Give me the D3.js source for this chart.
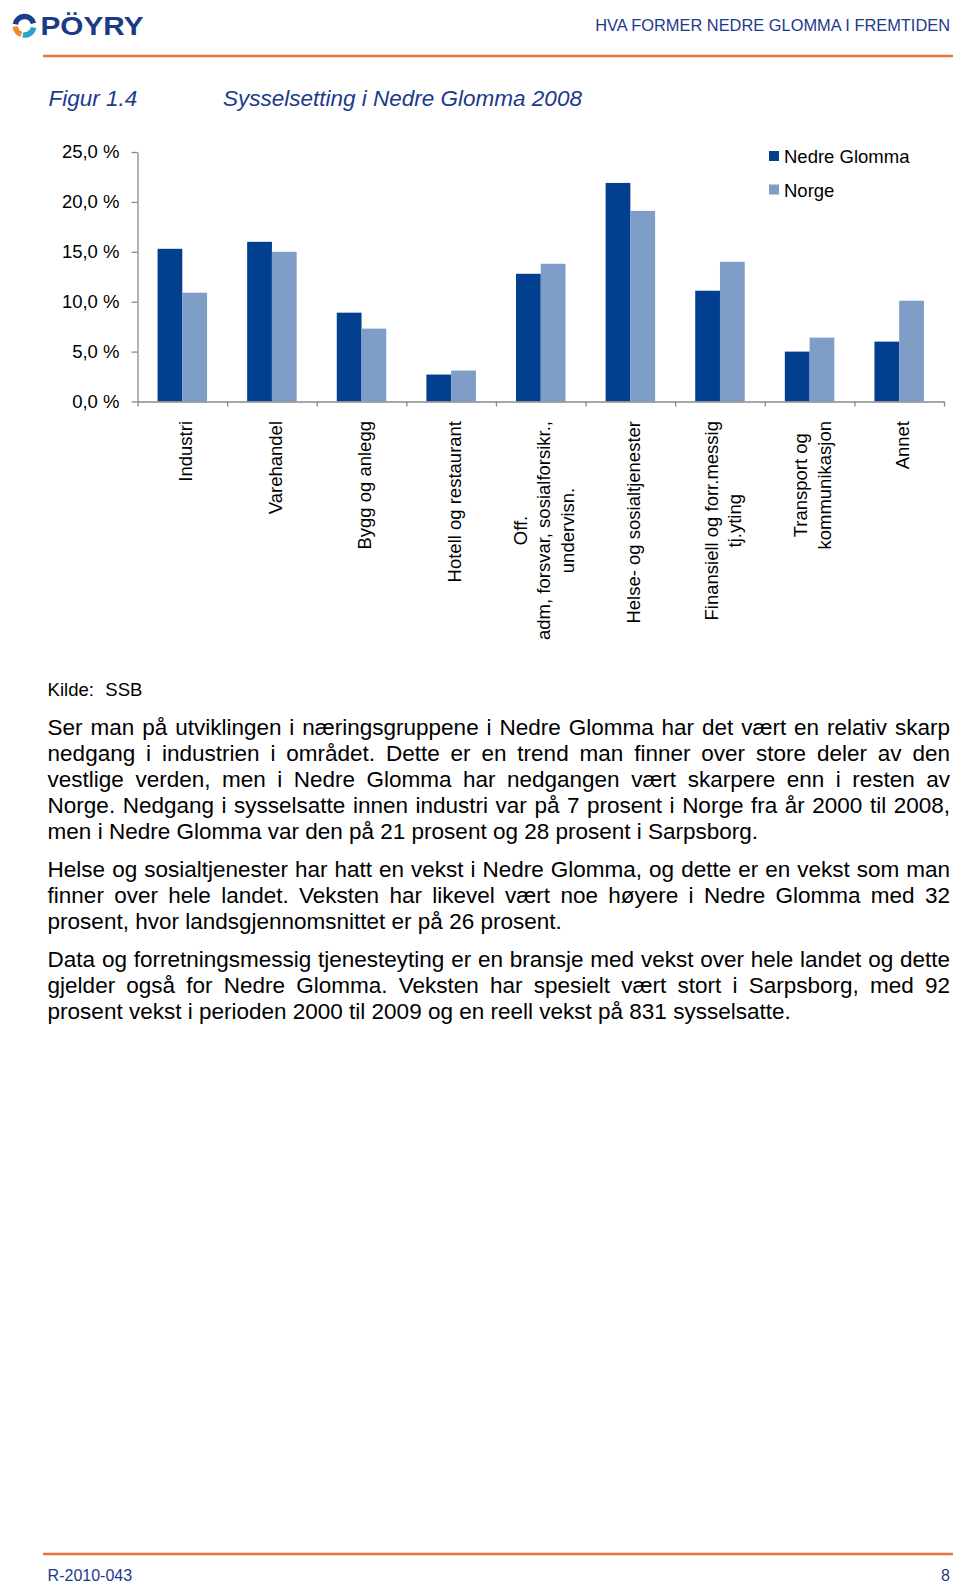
<!DOCTYPE html>
<html>
<head>
<meta charset="utf-8">
<script src="https://cdn.jsdelivr.net/npm/d3@7"></script>
<style>
  html, body { margin: 0; padding: 0; background: #fff; }
  svg { display: block; }
  text { font-family: "Liberation Sans", Arial, Helvetica, sans-serif; }
</style>
</head>
<body>
<script>
// ---------- data ----------
const categories = [
  "Industri",
  "Varehandel",
  "Bygg og anlegg",
  "Hotell og restaurant",
  "Off.\nadm, forsvar, sosialforsikr.,\nundervisn.",
  "Helse- og sosialtjenester",
  "Finansiell og forr.messig\ntj.yting",
  "Transport og\nkommunikasjon",
  "Annet"
];
const seriesNames = ["Nedre Glomma", "Norge"];
const nedreGlomma = [15.3, 16.0, 8.9, 2.7, 12.8, 21.9, 11.1, 5.0, 6.0];
const norge       = [10.9, 15.0, 7.3, 3.1, 13.8, 19.1, 14.0, 6.4, 10.1];
const yTickValues = [0, 5, 10, 15, 20, 25];
const yTickLabels = ["0,0 %", "5,0 %", "10,0 %", "15,0 %", "20,0 %", "25,0 %"];

const headerTitle = "HVA FORMER NEDRE GLOMMA I FREMTIDEN";
const brandName = "PÖYRY";
const figureLabel = "Figur 1.4";
const figureTitle = "Sysselsetting i Nedre Glomma 2008";
const sourceLabel = "Kilde:";
const sourceName = "SSB";
const reportId = "R-2010-043";
const pageNumber = "8";

const paragraphs = [
  [
    "Ser man på utviklingen i næringsgruppene i Nedre Glomma har det vært en relativ skarp",
    "nedgang i industrien i området. Dette er en trend man finner over store deler av den",
    "vestlige verden, men i Nedre Glomma har nedgangen vært skarpere enn i resten av",
    "Norge. Nedgang i sysselsatte innen industri var på 7 prosent i Norge fra år 2000 til 2008,",
    "men i Nedre Glomma var den på 21 prosent og 28 prosent i Sarpsborg."
  ],
  [
    "Helse og sosialtjenester har hatt en vekst i Nedre Glomma, og dette er en vekst som man",
    "finner over hele landet. Veksten har likevel vært noe høyere i Nedre Glomma med 32",
    "prosent, hvor landsgjennomsnittet er på 26 prosent."
  ],
  [
    "Data og forretningsmessig tjenesteyting er en bransje med vekst over hele landet og dette",
    "gjelder også for Nedre Glomma. Veksten har spesielt vært stort i Sarpsborg, med 92",
    "prosent vekst i perioden 2000 til 2009 og en reell vekst på 831 sysselsatte."
  ]
];

// ---------- styles ----------
const W = 960, H = 1588;
const navy = "#1c3a8c";
const orange = "#e8763f";
const darkBar = "#023f8e";
const lightBar = "#7e9ec8";
const axisColor = "#8a8a8a";

const svg = d3.select("body").append("svg")
  .attr("width", W).attr("height", H)
  .attr("viewBox", `0 0 ${W} ${H}`);

// ---------- page header ----------
const logo = svg.append("g").attr("transform", "translate(24.5,25.8)");
const arcGen = d3.arc().innerRadius(6.5).outerRadius(12);
const deg = Math.PI / 180;
logo.append("path").attr("d", arcGen({startAngle: -80 * deg, startAngle2: 0, endAngle: 75 * deg})).attr("fill", "#1b3f8f");
logo.append("path").attr("d", arcGen({startAngle: 100 * deg, endAngle: 190 * deg})).attr("fill", "#2aa3c8");
logo.append("path").attr("d", arcGen({startAngle: 200 * deg, endAngle: 265 * deg})).attr("fill", "#f08a2c");

svg.append("text")
  .attr("x", 40.5).attr("y", 35.4)
  .attr("textLength", 103).attr("lengthAdjust", "spacingAndGlyphs")
  .style("font-size", "26.5px").style("font-weight", "bold")
  .attr("fill", "#1b3a86")
  .text(brandName);

svg.append("text")
  .attr("x", 950).attr("y", 31)
  .attr("text-anchor", "end")
  .style("font-size", "16.4px")
  .attr("fill", navy)
  .text(headerTitle);

svg.append("line")
  .attr("x1", 43).attr("x2", 953).attr("y1", 56).attr("y2", 56)
  .attr("stroke", orange).attr("stroke-width", 2.5);

svg.append("text")
  .attr("x", 48.5).attr("y", 105.5)
  .style("font-size", "22.5px").style("font-style", "italic")
  .attr("fill", navy)
  .text(figureLabel);
svg.append("text")
  .attr("x", 223).attr("y", 105.5)
  .style("font-size", "22.5px").style("font-style", "italic")
  .attr("fill", navy)
  .text(figureTitle);

// ---------- chart ----------
const plotLeft = 137.5, plotRight = 944, plotTop = 152, plotBottom = 401.5;
const chartFont = 18.5;

const y = d3.scaleLinear().domain([0, 25]).range([plotBottom, plotTop]);
const x0 = d3.scaleBand().domain(categories).range([plotLeft, plotRight]).padding(0);
const x1 = d3.scaleBand().domain(seriesNames).range([0, x0.bandwidth()])
  .paddingInner(0).paddingOuter(0.81);
const color = d3.scaleOrdinal().domain(seriesNames).range([darkBar, lightBar]);

const rows = categories.map((c, i) => ({cat: c, values: [
  {s: seriesNames[0], v: nedreGlomma[i]},
  {s: seriesNames[1], v: norge[i]}
]}));

const barsG = svg.append("g");
barsG.selectAll("g").data(rows).join("g")
  .attr("transform", d => `translate(${x0(d.cat)},0)`)
  .selectAll("rect").data(d => d.values).join("rect")
  .attr("x", d => x1(d.s))
  .attr("width", x1.bandwidth())
  .attr("y", d => y(d.v))
  .attr("height", d => y(0) - y(d.v))
  .attr("fill", d => color(d.s));

// y axis
const yAxis = svg.append("g")
  .attr("transform", `translate(${plotLeft},0)`)
  .call(d3.axisLeft(y).tickValues(yTickValues)
    .tickFormat((d, i) => yTickLabels[i])
    .tickSize(6).tickSizeOuter(0).tickPadding(12));
yAxis.select(".domain").attr("stroke", axisColor).attr("stroke-width", 1.3);
yAxis.selectAll(".tick line").attr("stroke", axisColor).attr("stroke-width", 1.3);
yAxis.selectAll(".tick text")
  .attr("fill", "#000")
  .style("font-size", chartFont + "px")
  .style("font-family", '"Liberation Sans", Arial, sans-serif');

// x axis (category boundaries)
const xb = d3.scaleLinear().domain([0, categories.length]).range([plotLeft, plotRight]);
const xAxis = svg.append("g")
  .attr("transform", `translate(0,${plotBottom})`)
  .call(d3.axisBottom(xb).tickValues(d3.range(categories.length + 1))
    .tickFormat("").tickSize(5).tickSizeOuter(0));
xAxis.select(".domain").attr("stroke", axisColor).attr("stroke-width", 1.3);
xAxis.selectAll(".tick line").attr("stroke", axisColor).attr("stroke-width", 1.3);

// category labels (rotated)
const labelTop = 421;
const lineH = 23.5;
const labelsG = svg.append("g");
categories.forEach(c => {
  const lines = c.split("\n");
  const cx = x0(c) + x0.bandwidth() / 2 + 3;
  const g = labelsG.append("g");
  const texts = lines.map(l => g.append("text")
    .style("font-size", chartFont + "px")
    .attr("text-anchor", "middle")
    .attr("fill", "#000")
    .text(l));
  const maxW = d3.max(texts, t => t.node().getComputedTextLength());
  const yc = labelTop + maxW / 2;
  texts.forEach((t, i) => {
    const xc = cx + (i - (lines.length - 1) / 2) * lineH + chartFont * 0.358;
    t.attr("transform", `translate(${xc},${yc}) rotate(-90)`);
  });
});

// legend
const legend = svg.append("g");
const legendY = [151, 184.5];
seriesNames.forEach((s, i) => {
  legend.append("rect")
    .attr("x", 769).attr("y", legendY[i]).attr("width", 10).attr("height", 10)
    .attr("fill", color(s));
  legend.append("text")
    .attr("x", 784).attr("y", legendY[i] + 12)
    .style("font-size", chartFont + "px")
    .attr("fill", "#000")
    .text(s);
});

// source
const src = svg.append("text")
  .attr("x", 47.6).attr("y", 696)
  .style("font-size", "18.5px").attr("fill", "#000");
src.append("tspan").text(sourceLabel);
src.append("tspan").attr("x", 105.3).text(sourceName);

// ---------- body text (justified) ----------
const bodyLeft = 47.6, bodyRight = 950, bodyFont = 22.5, bodyLH = 26;
const paraStarts = [734.5, 876.5, 966.5];
const bodyG = svg.append("g");
paragraphs.forEach((lines, p) => {
  lines.forEach((line, li) => {
    const yy = paraStarts[p] + li * bodyLH;
    const words = line.split(" ");
    const t = bodyG.append("text")
      .attr("y", yy)
      .style("font-size", bodyFont + "px")
      .attr("fill", "#000");
    const spans = words.map(w => t.append("tspan").attr("y", yy).text(w));
    const widths = spans.map(s => s.node().getComputedTextLength());
    const total = d3.sum(widths);
    const isLast = li === lines.length - 1;
    const spaceW = bodyFont * 0.278;
    const gap = isLast ? spaceW : (bodyRight - bodyLeft - total) / (words.length - 1);
    let xx = bodyLeft;
    spans.forEach((s, k) => {
      s.attr("x", xx);
      xx += widths[k] + gap;
    });
  });
});

// ---------- footer ----------
svg.append("line")
  .attr("x1", 43).attr("x2", 953).attr("y1", 1554).attr("y2", 1554)
  .attr("stroke", orange).attr("stroke-width", 2.5);
svg.append("text")
  .attr("x", 47.6).attr("y", 1581)
  .style("font-size", "16px").attr("fill", navy)
  .text(reportId);
svg.append("text")
  .attr("x", 950).attr("y", 1581).attr("text-anchor", "end")
  .style("font-size", "16px").attr("fill", navy)
  .text(pageNumber);
</script>
</body>
</html>
